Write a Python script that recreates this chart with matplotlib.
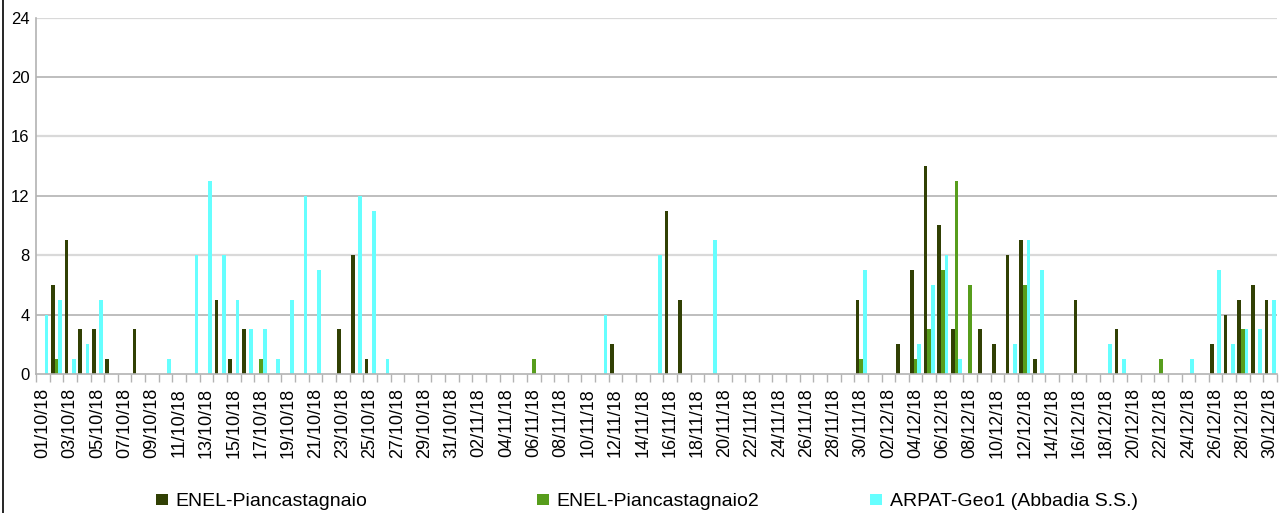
import matplotlib
matplotlib.use("Agg")
import matplotlib.pyplot as plt
import numpy as np
import datetime as dt
from matplotlib.lines import Line2D

plt.rcParams['font.family'] = ['Liberation Sans', 'DejaVu Sans']

start = dt.date(2018, 10, 1)
dates = [(start + dt.timedelta(days=i)).strftime("%d/%m/%y") for i in range(91)]

series_names = ["ENEL-Piancastagnaio", "ENEL-Piancastagnaio2", "ARPAT-Geo1 (Abbadia S.S.)"]
colors = ["#314004", "#579d1c", "#66ffff"]

# sparse values {day index: value}
enel1_nz = {1: 6, 2: 9, 3: 3, 4: 3, 5: 1, 7: 3, 13: 5, 14: 1, 15: 3, 22: 3, 23: 8, 24: 1,
            42: 2, 46: 11, 47: 5, 60: 5, 63: 2, 64: 7, 65: 14, 66: 10, 67: 3, 69: 3, 70: 2,
            71: 8, 72: 9, 73: 1, 76: 5, 79: 3, 86: 2, 87: 4, 88: 5, 89: 6, 90: 5}
enel2_nz = {1: 1, 16: 1, 36: 1, 60: 1, 64: 1, 65: 3, 66: 7, 67: 13, 68: 6, 72: 6, 82: 1, 88: 3}
arpat_nz = {0: 4, 1: 5, 2: 1, 3: 2, 4: 5, 9: 1, 11: 8, 12: 13, 13: 8, 14: 5, 15: 3, 16: 3,
            17: 1, 18: 5, 19: 12, 20: 7, 23: 12, 24: 11, 25: 1, 41: 4, 45: 8, 49: 9, 60: 7,
            64: 2, 65: 6, 66: 8, 67: 1, 71: 2, 72: 9, 73: 7, 78: 2, 79: 1, 84: 1, 86: 7,
            87: 2, 88: 3, 89: 3, 90: 5}

enel1 = [enel1_nz.get(i, 0) for i in range(91)]
enel2 = [enel2_nz.get(i, 0) for i in range(91)]
arpat = [arpat_nz.get(i, 0) for i in range(91)]
values = [enel1, enel2, arpat]

W, H = 1282, 513
fig = plt.figure(figsize=(W / 100, H / 100), dpi=100)
ax = fig.add_axes([36 / W, 1 - 374 / H, (1277 - 36) / W, (374 - 17.5) / H])

x = np.arange(91)
bw = 0.27
handles = []
for k, (vals, col) in enumerate(zip(values, colors)):
    b = ax.bar(x + (k - 1) * bw, vals, width=bw, color=col, linewidth=0, zorder=3)
    handles.append(b)

ax.set_xlim(-0.5, 90.5)
ax.set_ylim(0, 24)
ax.set_yticks(np.arange(0, 25, 4))
ax.tick_params(axis='y', length=0, labelsize=12, pad=4.5)

ax.set_xticks(x[::2])
ax.set_xticklabels(dates[::2], rotation=90, fontsize=13)
ax.set_xticks(np.arange(-0.5, 91, 1), minor=True)
ax.tick_params(axis='x', which='major', length=0, pad=10)
ax.tick_params(axis='x', which='minor', length=6, color='#b3b3b3', width=1)

for yv in range(4, 25, 4):
    col = '#b3b3b3' if yv in (4, 12, 20) else '#d9d9d9'
    lw = 1.2 if yv in (4, 12, 20) else 1.6
    ax.axhline(yv, color=col, lw=lw, zorder=1)

for s in ['top', 'right']:
    ax.spines[s].set_visible(False)
for s in ['left', 'bottom']:
    ax.spines[s].set_color('#b3b3b3')
    ax.spines[s].set_linewidth(1.2)
ax.spines['bottom'].set_zorder(4)

# legend entries
leg_x = [156, 537, 870]
for name, h, lx in zip(series_names, handles, leg_x):
    fig.legend([h], [name], loc='center left', bbox_to_anchor=(lx / W, 1 - 502 / H),
               frameon=False, fontsize=14, handlelength=0.62, handleheight=0.55,
               handletextpad=0.4, borderaxespad=0, borderpad=0)

# left frame line
fig.add_artist(Line2D([3 / W, 3 / W], [0, 1], color='black', lw=1.2, transform=fig.transFigure))

fig.savefig("out.png", dpi=100)
